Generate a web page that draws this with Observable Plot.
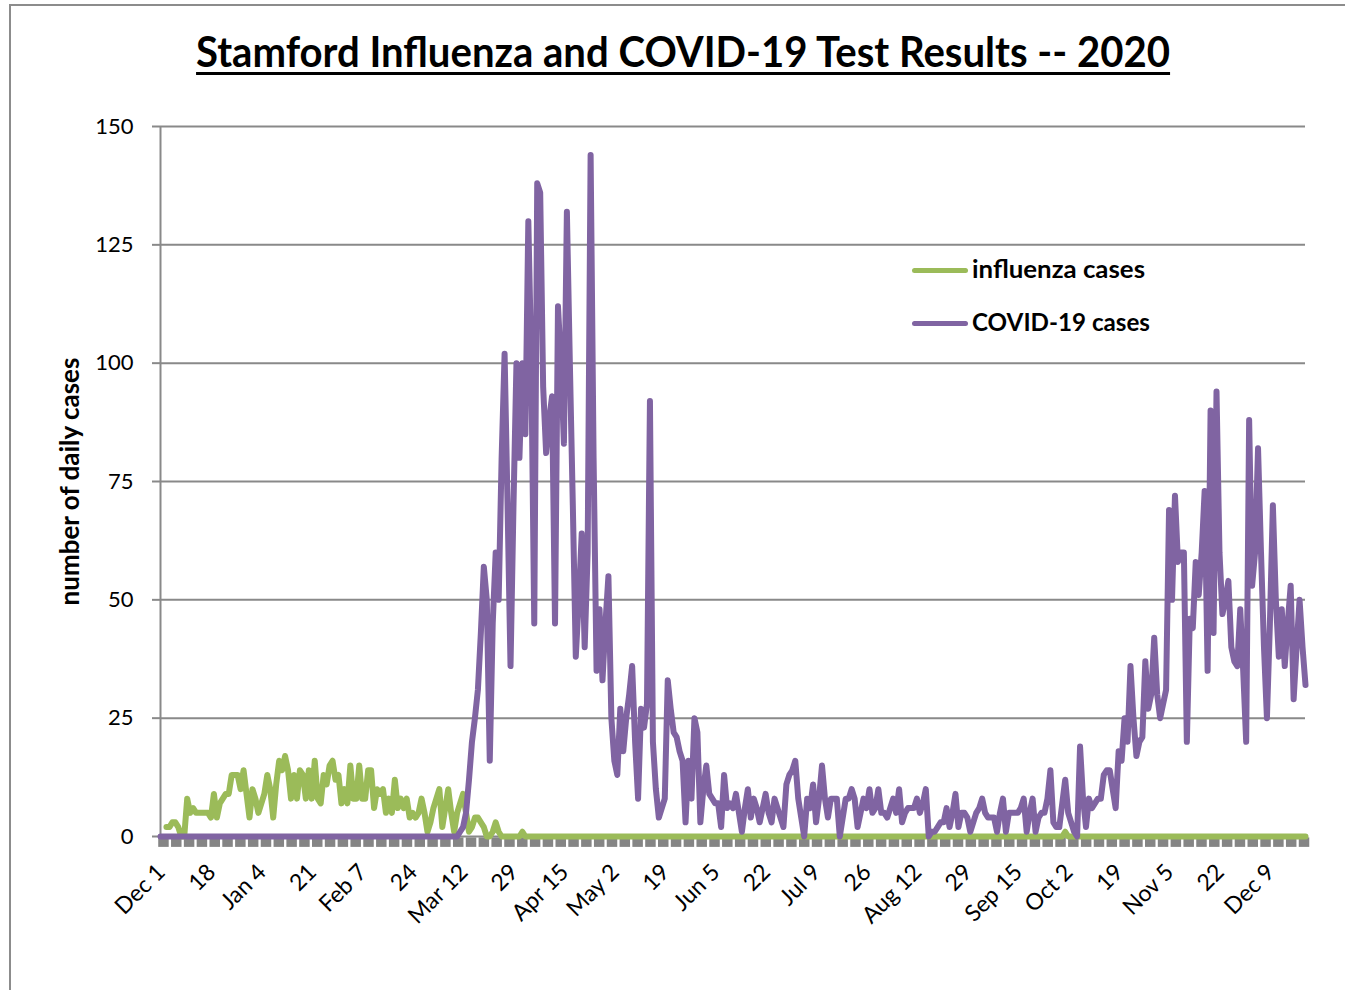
<!DOCTYPE html>
<html>
<head>
<meta charset="utf-8">
<script src="https://cdn.jsdelivr.net/npm/d3@7"></script>
<script src="https://cdn.jsdelivr.net/npm/@observablehq/plot@0.6"></script>
<style>
html, body { margin: 0; padding: 0; background: #fff; }
#chart { position: relative; width: 1345px; height: 990px; overflow: hidden; font-family: Lato, "Open Sans", sans-serif; background: #fff; }
#frame { position: absolute; left: 9px; top: 4px; right: -10px; bottom: -10px; border-left: 2px solid #8c8c8c; border-top: 2px solid #8c8c8c; }
#title { position: absolute; left: 10px; width: 1346px; top: 30px; text-align: center; line-height: 42px; }
#title span { display: inline-block; font-size: 42px; font-weight: 700; color: #000; text-decoration: underline; text-decoration-thickness: 3px; text-underline-offset: 5px; transform-origin: center; white-space: nowrap; }
#plot { position: absolute; left: 0; top: 100px; }
.leg-line { position: absolute; width: 56px; height: 5px; border-radius: 3px; }
.leg-text { position: absolute; font-size: 24px; font-weight: 700; color: #000; white-space: nowrap; line-height: 24px; transform-origin: left center; }
</style>
</head>
<body>
<div id="chart">
  <div id="frame"></div>
  <div id="title"><span id="title-text"></span></div>
  <div id="plot"></div>
  <div id="legend"></div>
</div>
<script>
const chartTitle = "Stamford Influenza and COVID-19 Test Results -- 2020";
const yAxisTitle = "number of daily cases";
const seriesNames = ["influenza cases", "COVID-19 cases"];
const seriesColors = ["#9BBB59", "#8064A2"];
const startDate = new Date(Date.UTC(2019, 11, 1));
const yTicks = [0, 25, 50, 75, 100, 125, 150];
const xTickLabels = ["Dec 1", "18", "Jan 4", "21", "Feb 7", "24", "Mar 12", "29", "Apr 15", "May 2", "19", "Jun 5", "22", "Jul 9", "26", "Aug 12", "29", "Sep 15", "Oct 2", "19", "Nov 5", "22", "Dec 9"];
const xTickStepDays = 17;

// daily influenza cases, Dec 1 2019 .. Dec 21 2020
const influenzaCases = [
  null,null,2,2,3,3,2,0,0,8,
  5,6,5,5,5,5,5,4,9,4,
  7,8,9,9,13,13,13,10,14,9,
  4,10,8,5,7,9,13,10,4,11,
  16,14,17,14,8,13,8,14,13,8,
  14,8,16,8,7,13,11,15,16,12,
  13,7,10,7,15,8,8,15,8,8,
  14,14,6,10,9,10,5,8,5,12,
  6,8,6,8,4,5,4,5,8,5,
  1,3,6,8,10,2,6,10,5,1,
  5,7,9,5,1,2,4,4,3,2,
  0,0,1,3,1,0,0,0,0,0,
  0,0,1,0,0,0,0,0,0,0,
  0,0,0,0,0,0,0,0,0,0,
  0,0,0,0,0,0,0,0,0,0,
  0,0,0,0,0,0,0,0,0,0,
  0,0,0,0,0,0,0,0,0,0,
  0,0,0,0,0,0,0,0,0,0,
  0,0,0,0,0,0,0,0,0,0,
  0,0,0,0,0,0,0,0,0,0,
  0,0,0,0,0,0,0,0,0,0,
  0,0,0,0,0,0,0,0,0,0,
  0,0,0,0,0,0,0,0,0,0,
  0,0,0,0,0,0,0,0,0,0,
  0,0,0,0,0,0,0,0,0,0,
  0,0,0,0,0,0,0,0,0,0,
  0,0,0,0,0,0,0,0,0,0,
  0,0,0,0,0,0,0,0,0,0,
  0,0,0,0,0,0,0,0,0,0,
  0,0,0,0,0,0,0,0,0,0,
  0,0,0,0,0,1,0,0,0,0,
  0,0,0,0,0,0,0,0,0,0,
  0,0,0,0,0,0,0,0,0,0,
  0,0,0,0,0,0,0,0,0,0,
  0,0,0,0,0,0,0,0,0,0,
  0,0,0,0,0,0,0,0,0,0,
  0,0,0,0,0,0,0,0,0,0,
  0,0,0,0,0,0,0,0,0,0,
  0,0,0,0,0,0,0
];

// daily COVID-19 cases, Dec 1 2019 .. Dec 21 2020
const covidCases = [
  0,0,0,0,0,0,0,0,0,0,
  0,0,0,0,0,0,0,0,0,0,
  0,0,0,0,0,0,0,0,0,0,
  0,0,0,0,0,0,0,0,0,0,
  0,0,0,0,0,0,0,0,0,0,
  0,0,0,0,0,0,0,0,0,0,
  0,0,0,0,0,0,0,0,0,0,
  0,0,0,0,0,0,0,0,0,0,
  0,0,0,0,0,0,0,0,0,0,
  0,0,0,0,0,0,0,0,0,0,
  0,1,2,5,12,20,25,31,43,57,
  50,16,45,60,50,80,102,70,36,70,
  100,80,100,85,130,100,45,138,136,95,
  81,88,93,45,112,100,83,132,100,70,
  38,50,64,40,60,144,80,35,48,33,
  45,55,25,16,13,27,18,25,30,36,
  20,8,27,23,28,92,20,10,4,6,
  8,33,27,22,21,18,16,3,16,8,
  25,22,3,10,15,9,8,7,7,2,
  13,6,7,6,9,5,1,6,10,4,
  8,6,3,6,9,5,3,8,6,4,
  2,11,13,14,16,8,4,0,8,6,
  11,3,8,15,8,4,8,8,8,0,
  4,8,8,10,8,2,5,8,6,10,
  5,6,10,5,5,4,6,8,5,10,
  3,5,6,6,6,8,5,7,10,0,
  1,1,2,3,3,6,2,5,9,2,
  5,5,4,1,3,5,6,8,5,4,
  4,4,1,5,8,1,5,5,5,5,
  6,8,1,5,8,1,4,5,5,8,
  14,3,2,2,7,12,5,3,1,0,
  19,8,2,8,6,7,8,8,13,14,
  14,10,6,18,16,25,20,36,25,17,
  20,21,37,27,30,42,30,25,28,31,
  69,50,72,58,60,60,20,46,44,58,
  51,60,73,35,90,43,94,60,47,50,
  54,40,37,36,48,35,20,88,53,60,
  82,60,40,25,45,70,50,38,48,36,
  45,53,29,40,50,40,32
];

const DAY = 86400000;
const dayDate = (i) => new Date(startDate.getTime() + i * DAY);
const endDate = dayDate(covidCases.length - 1);

const fluData = influenzaCases.map((v, i) => ({date: dayDate(i), value: v}));
const covidData = covidCases.map((v, i) => ({date: dayDate(i), value: v}));
const xTicks = xTickLabels.map((label, i) => ({date: dayDate(i * xTickStepDays), label}));
// decorative tick-mark band under the axis (evenly spaced blocks)
const bandCount = 90;
const bandDates = d3.range(bandCount).map(i => dayDate(1 + i * (covidCases.length - 2.5) / (bandCount - 1)));

const grey = "#898989";

const chart = Plot.plot({
  width: 1345,
  height: 890,
  marginTop: 26,
  marginBottom: 154,
  marginLeft: 160,
  marginRight: 40,
  x: {type: "utc", domain: [startDate, endDate], axis: null},
  y: {domain: [0, 150], axis: null},
  style: {fontFamily: "Lato, 'Open Sans', sans-serif", fontSize: "22px", color: "#000", background: "transparent", overflow: "visible"},
  marks: [
    Plot.gridY(yTicks, {stroke: grey, strokeOpacity: 1, strokeWidth: 2}),
    Plot.ruleX([startDate], {y1: 0, y2: 150, stroke: grey, strokeWidth: 2}),
    Plot.axisY(yTicks, {tickSize: 8, tickPadding: 19, stroke: grey, strokeWidth: 2, fill: "#000", fontSize: 22, label: null}),
    Plot.ruleX(bandDates, {x: d => d, y1: () => -0.3, y2: () => -2.3, stroke: "#858585", strokeWidth: 10.5}),
    Plot.line(fluData, {x: "date", y: "value", stroke: seriesColors[0], strokeWidth: 6, strokeLinejoin: "round", strokeLinecap: "round"}),
    Plot.line(covidData, {x: "date", y: "value", stroke: seriesColors[1], strokeWidth: 6, strokeLinejoin: "round", strokeLinecap: "round"}),
    Plot.text(xTicks, {x: "date", text: "label", frameAnchor: "bottom", rotate: -45, textAnchor: "end", dx: 6, dy: 37, fontSize: 23, fill: "#000"}),
    Plot.text([yAxisTitle], {frameAnchor: "left", textAnchor: "middle", rotate: -90, dx: -90, fontWeight: "bold", fontSize: 26, fill: "#000"})
  ]
});
document.getElementById("plot").appendChild(chart);

// title
const titleEl = document.getElementById("title-text");
titleEl.textContent = chartTitle;
const tw = titleEl.getBoundingClientRect().width;
titleEl.style.transform = `scaleX(${974 / tw})`;

// legend
const legend = document.getElementById("legend");
const legendRows = [{y: 270, width: 173}, {y: 323, width: 178}];
seriesNames.forEach((name, i) => {
  const line = document.createElement("div");
  line.className = "leg-line";
  line.style.left = "912px";
  line.style.top = (legendRows[i].y - 2.5) + "px";
  line.style.background = seriesColors[i];
  legend.appendChild(line);
  const t = document.createElement("div");
  t.className = "leg-text";
  t.textContent = name;
  t.style.left = "972px";
  t.style.top = (legendRows[i].y - 13) + "px";
  legend.appendChild(t);
  const w = t.getBoundingClientRect().width;
  t.style.transform = `scaleX(${legendRows[i].width / w})`;
});
</script>
</body>
</html>
